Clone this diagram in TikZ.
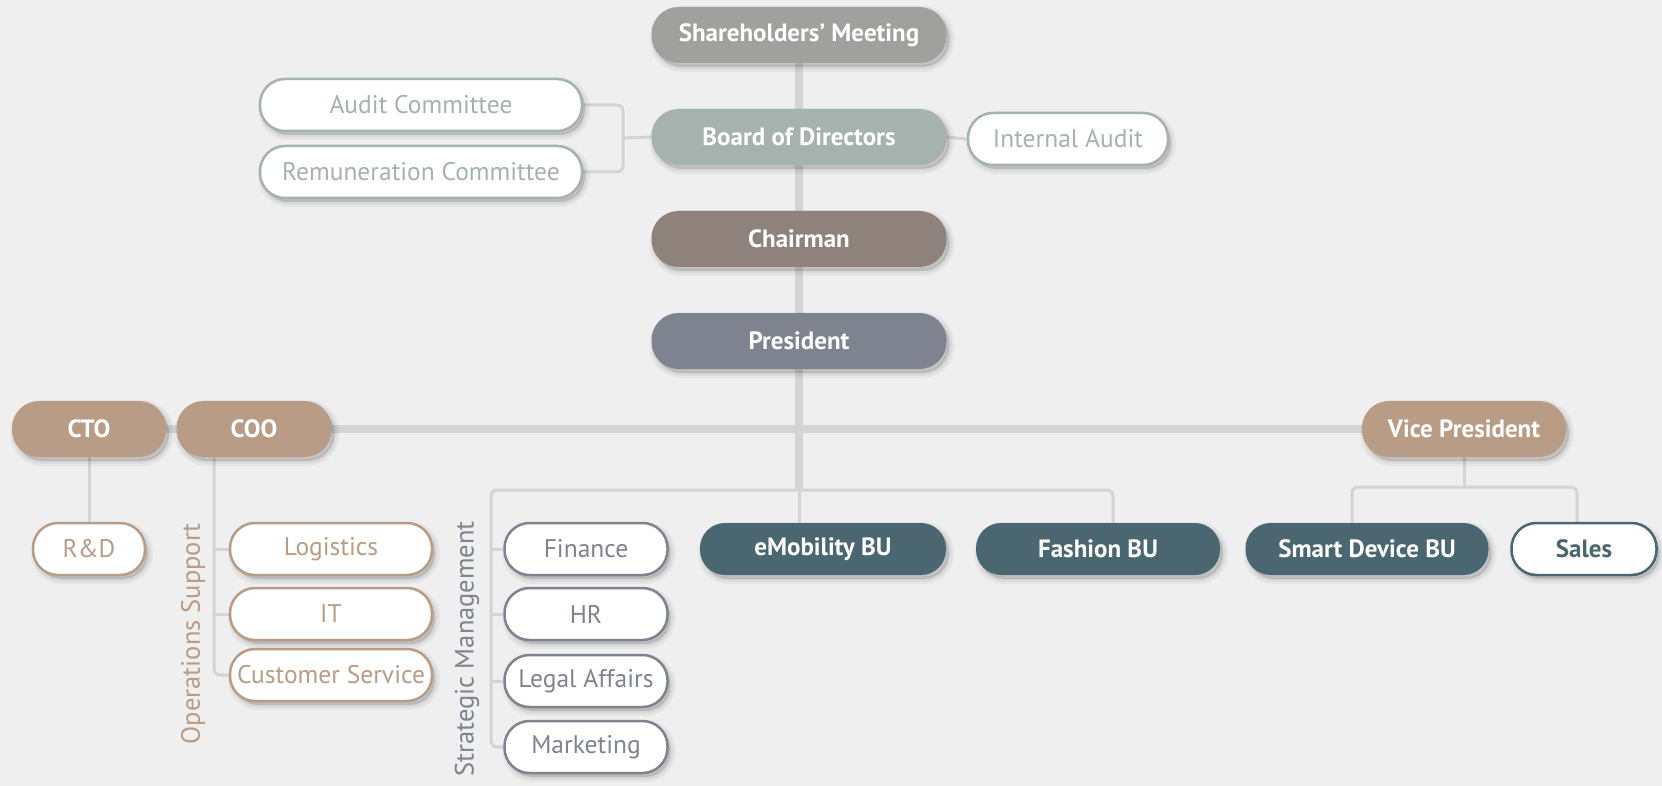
\documentclass[tikz,border=0pt]{standalone}
\usepackage{fontspec}
\setmainfont{PT Sans}
\definecolor{bgcol}{HTML}{EFEFEF}
\definecolor{wire}{HTML}{D4D4D4}
\definecolor{smgray}{HTML}{A0A19F}
\definecolor{bodgray}{HTML}{A6B2AD}
\definecolor{chairbrown}{HTML}{8F817C}
\definecolor{presgray}{HTML}{7F8390}
\definecolor{tan}{HTML}{B89C86}
\definecolor{teal}{HTML}{4A6671}
\pgfdeclarelayer{back}
\pgfdeclarelayer{wires}
\pgfsetlayers{back,wires,main}

\begin{document}
\begin{tikzpicture}[x=1pt,y=-1pt]
  \tikzset{
    softshadow/.style={
      preaction={draw=black, draw opacity=0.04, line width=10pt, transform canvas={xshift=3pt, yshift=-4pt}},
      preaction={draw=black, draw opacity=0.05, line width=5pt, transform canvas={xshift=3pt, yshift=-4pt}},
      preaction={fill=black, fill opacity=0.14, transform canvas={xshift=3pt, yshift=-4pt}}},
    pill/.style={rectangle, rounded corners=25pt, minimum height=52pt, inner sep=0pt, softshadow},
    headbox/.style={pill, fill=#1, text=white, minimum height=56pt, rounded corners=27pt,
      font=\bfseries\fontsize{25}{25}\selectfont},
    unitbox/.style={pill, fill=#1, text=white, font=\bfseries\fontsize{25}{25}\selectfont},
    deptbox/.style={pill, fill=white, draw=#1, line width=2.5pt, text=#1,
      font=\fontsize{25.5}{25.5}\selectfont},
    grouplabel/.style={rotate=90, anchor=east, inner sep=0pt, text=#1,
      font=\fontsize{26.5}{26.5}\selectfont},
    trunk/.style={draw=wire, line width=8.5pt},
    twig/.style={draw=wire, line width=3pt, rounded corners=6pt}
  }
  \useasboundingbox (0,0) rectangle (1662,786);
  \begin{pgfonlayer}{back}
    \fill[bgcol] (0,0) rectangle (1662,786);
  \end{pgfonlayer}

  \node[headbox=smgray, minimum width=295pt] (sm) at (799,35) {Shareholders' Meeting};
  \node[headbox=bodgray, minimum width=295pt] (bod) at (799,137) {Board of Directors};
  \node[deptbox=bodgray, minimum width=322pt] (ac) at (421,105) {Audit Committee};
  \node[deptbox=bodgray, minimum width=322pt] (rc) at (421,172) {Remuneration Committee};
  \node[deptbox=bodgray, minimum width=200pt] (ia) at (1068,139) {Internal Audit};
  \node[headbox=chairbrown, minimum width=295pt] (chair) at (799,239) {Chairman};
  \node[headbox=presgray, minimum width=295pt] (pres) at (799,341) {President};

  \node[headbox=tan, minimum width=154pt] (cto) at (89,429) {CTO};
  \node[headbox=tan, minimum width=155pt] (coo) at (254,429) {COO};
  \node[headbox=tan, minimum width=204pt] (vp) at (1464,429) {Vice President};

  \node[deptbox=tan, minimum width=112pt] (rnd) at (89,549) {R\&D};
  \node[deptbox=tan, minimum width=202pt] (log) at (331,549) {Logistics};
  \node[deptbox=tan, minimum width=202pt] (it) at (331,614) {IT};
  \node[deptbox=tan, minimum width=202pt] (cs) at (331,675) {Customer Service};
  \node[grouplabel=tan] (ops) at (193,523) {Operations Support};

  \node[grouplabel=presgray] (stm) at (467,521) {Strategic Management};
  \node[deptbox=presgray, minimum width=163pt] (fin) at (586,549) {Finance};
  \node[deptbox=presgray, minimum width=163pt] (hr) at (586,614) {HR};
  \node[deptbox=presgray, minimum width=163pt] (legal) at (586,681) {Legal Affairs};
  \node[deptbox=presgray, minimum width=163pt] (mkt) at (586,747) {Marketing};

  \node[unitbox=teal, minimum width=246pt] (emob) at (823,549) {eMobility BU};
  \node[unitbox=teal, minimum width=244pt] (fash) at (1098,549) {Fashion BU};
  \node[unitbox=teal, minimum width=243pt] (sdbu) at (1367,549) {Smart Device BU};
  \node[deptbox=teal, minimum width=145pt, font=\bfseries\fontsize{25}{25}\selectfont] (sales) at (1584,549) {Sales};

  \coordinate (brL) at (491,490);
  \coordinate (brR) at (1113,490);
  \coordinate (cmt) at (623,138);
  \coordinate (opsL) at (214,457);
  \coordinate (vbL) at (1352,487);
  \coordinate (vbR) at (1577,487);

  \begin{pgfonlayer}{wires}
    \draw[trunk] (sm.center) -- (sm.center |- brL);
    \draw[trunk] (cto.center) -- (vp.center);
    \draw[twig] (mkt.west) -- (mkt.west -| brL) -- (brL) -- (brR) -- (fash.north -| brR);
    \foreach \d in {fin,hr,legal} \draw[twig] (\d.west) -- (\d.west -| brL);
    \draw[twig] (sm.center |- brL) -- (sm.center |- emob.north);
    \draw[twig] (ac.east) -- (ac.east -| cmt) -- (rc.east -| cmt) -- (rc.east);
    \draw[twig] (cmt) -- (bod.west);
    \draw[twig] (bod.east) -- (ia.west);
    \draw[twig] (cto.center) -- (rnd.north);
    \draw[twig] (coo.south -| opsL) -- (cs.west -| opsL) -- (cs.west);
    \foreach \d in {log,it} \draw[twig] (\d.west) -- (\d.west -| opsL);
    \draw[twig] (vp.center) -- (vp.center |- vbL);
    \draw[twig] (sdbu.north -| vbL) -- (vbL) -- (vbR) -- (sales.north -| vbR);
  \end{pgfonlayer}
\end{tikzpicture}
\end{document}
